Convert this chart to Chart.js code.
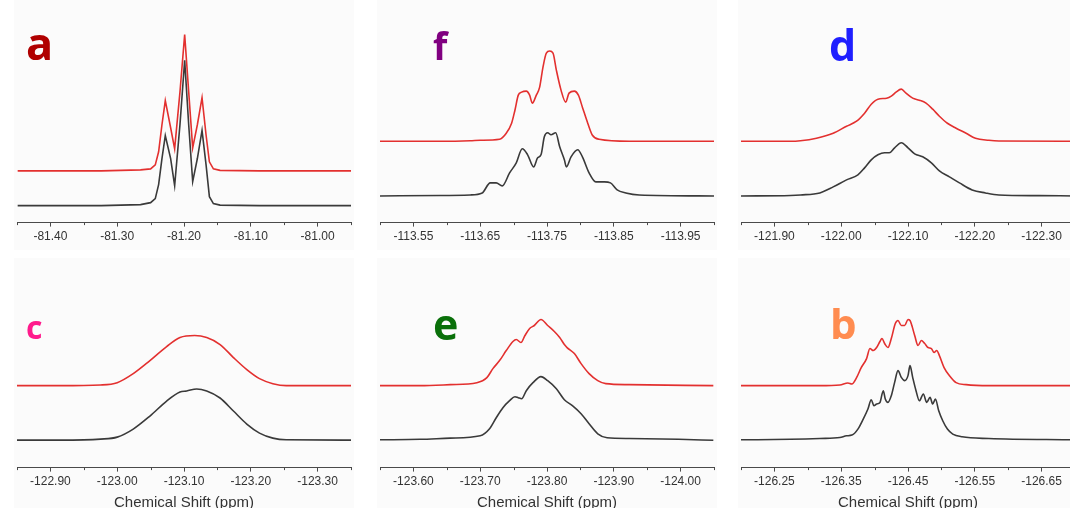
<html>
<head>
<meta charset="utf-8">
<script src="https://cdn.jsdelivr.net/npm/chart.js"></script>
<style>
  body { margin: 0; background: #fff; width: 1070px; height: 508px; overflow: hidden; position: relative; }
  canvas { position: absolute; background: #fbfbfb; }
</style>
</head>
<body>
  <canvas id="pa" width="340" height="250" style="left:14px;top:0px"></canvas>
  <canvas id="pf" width="340" height="250" style="left:377px;top:0px"></canvas>
  <canvas id="pd" width="340" height="250" style="left:738px;top:0px"></canvas>
  <canvas id="pc" width="340" height="254" style="left:14px;top:258px"></canvas>
  <canvas id="pe" width="340" height="254" style="left:377px;top:258px"></canvas>
  <canvas id="pb" width="340" height="254" style="left:738px;top:258px"></canvas>
<script>
// spectra: ppm positions and intensities (a.u., baseline = 0)
const aPpm = [-81.449, -81.324, -81.265, -81.250, -81.243, -81.238, -81.233, -81.228, -81.220, -81.214, -81.206, -81.199, -81.193, -81.187, -81.180, -81.173, -81.167, -81.162, -81.156, -81.146, -81.087, -80.950];
const aBlack = [0, 0, 1, 3, 7, 21, 47, 70, 47, 20, 81, 145, 81, 24, 47, 75, 41, 9, 2, 0.5, 0, 0];
const aRed = [0, 0, 1, 2, 6, 19, 46, 70, 43, 22, 79, 136, 79, 23, 46, 73, 36, 9, 2, 0.5, 0, 0];

const fRedPpm = [-113.500, -113.590, -113.635, -113.650, -113.679, -113.689, -113.697, -113.702, -113.707, -113.712, -113.719, -113.724, -113.728, -113.734, -113.739, -113.744, -113.749, -113.754, -113.759, -113.764, -113.771, -113.778, -113.783, -113.791, -113.797, -113.803, -113.811, -113.818, -113.828, -113.873, -114.000];
const fRed = [0, 0, 0.5, 1, 2, 8, 18, 31, 46, 49, 50, 46, 38, 46, 54, 74, 88, 90, 88, 71, 51, 39, 48, 50, 46, 34, 18, 6, 2, 0, 0];
const fBlackPpm = [-113.500, -113.590, -113.635, -113.653, -113.665, -113.674, -113.683, -113.694, -113.704, -113.713, -113.721, -113.730, -113.736, -113.741, -113.746, -113.751, -113.756, -113.763, -113.769, -113.776, -113.779, -113.786, -113.796, -113.803, -113.813, -113.823, -113.836, -113.845, -113.855, -113.868, -113.888, -114.000];
const fBlack = [0, 0.5, 1, 3, 13, 13, 10, 23, 33, 47, 41, 29, 38, 41, 59, 63, 61, 63, 49, 36, 29, 39, 46, 39, 23, 14, 14, 13, 6, 3, 1, 0];

const dRedPpm = [-121.850, -121.924, -121.939, -121.963, -121.988, -122.008, -122.023, -122.035, -122.045, -122.055, -122.068, -122.075, -122.082, -122.090, -122.097, -122.107, -122.117, -122.127, -122.137, -122.147, -122.159, -122.172, -122.187, -122.201, -122.221, -122.236, -122.350];
const dRed = [0, 0, 0.5, 3, 8, 15, 20, 28, 37, 42, 43, 45, 49, 52, 48, 43, 41, 38, 32, 25, 18, 13, 8, 3, 1, 0.3, 0];
const dBlackPpm = [-121.850, -121.924, -121.939, -121.968, -121.988, -122.008, -122.025, -122.035, -122.045, -122.055, -122.065, -122.072, -122.080, -122.090, -122.100, -122.110, -122.122, -122.135, -122.147, -122.162, -122.177, -122.196, -122.216, -122.236, -122.296, -122.350];
const dBlack = [0, 0.5, 1, 3, 9, 16, 21, 28, 36, 41, 43, 43, 48, 53, 48, 42, 39, 33, 25, 19, 13, 6, 3, 1, 0.3, 0];

const cRedPpm = [-122.850, -122.915, -122.975, -123.000, -123.024, -123.049, -123.074, -123.094, -123.116, -123.134, -123.154, -123.174, -123.194, -123.213, -123.233, -123.253, -123.350];
const cRed = [0, 0, 0.7, 3, 12, 25, 39, 48, 50, 48, 41, 28, 16, 7, 2, 0, 0];
const cBlackPpm = [-122.850, -122.915, -122.975, -123.000, -123.024, -123.049, -123.074, -123.094, -123.104, -123.119, -123.134, -123.154, -123.174, -123.194, -123.213, -123.233, -123.253, -123.350];
const cBlack = [0, 0, 1, 3, 11, 24, 39, 48, 49, 51, 49, 42, 29, 16, 7, 2, 0.3, 0];

const eRedPpm = [-123.549, -123.610, -123.655, -123.695, -123.710, -123.719, -123.729, -123.739, -123.749, -123.754, -123.761, -123.767, -123.774, -123.781, -123.791, -123.801, -123.811, -123.819, -123.826, -123.830, -123.841, -123.851, -123.863, -123.876, -123.888, -123.923, -124.049];
const eRed = [0, 0, 1, 3, 8, 17, 25, 35, 44, 46, 43, 50, 57, 60, 66, 60, 54, 48, 41, 38, 32, 22, 12, 5, 2, 1, 0];
const eBlackPpm = [-123.549, -123.610, -123.655, -123.700, -123.714, -123.724, -123.734, -123.744, -123.752, -123.757, -123.762, -123.769, -123.779, -123.791, -123.801, -123.814, -123.826, -123.838, -123.851, -123.863, -123.876, -123.890, -123.923, -123.997, -124.049];
const eBlack = [0, 0.5, 1.7, 4, 11, 22, 32, 39, 43, 42, 41, 49, 57, 63, 59, 51, 40, 34, 26, 16, 6, 2, 1.3, 0.5, -0.5];

const bRedPpm = [-126.200, -126.274, -126.318, -126.348, -126.360, -126.366, -126.373, -126.380, -126.388, -126.393, -126.398, -126.403, -126.408, -126.411, -126.415, -126.420, -126.425, -126.431, -126.435, -126.440, -126.445, -126.450, -126.453, -126.460, -126.465, -126.470, -126.475, -126.480, -126.485, -126.489, -126.493, -126.497, -126.504, -126.512, -126.522, -126.537, -126.571, -126.700];
const bRed = [0, 0, 0, 0.7, 2.7, 1.7, 8, 18, 27, 37, 35, 38, 44, 47, 42, 38, 47, 62, 65, 60, 60, 66, 65, 50, 40, 45, 42, 38, 37, 33, 35, 30, 18, 10, 3, 1, 0, 0];
const bBlackPpm = [-126.200, -126.274, -126.318, -126.348, -126.358, -126.366, -126.375, -126.383, -126.390, -126.395, -126.399, -126.403, -126.408, -126.413, -126.416, -126.420, -126.425, -126.430, -126.435, -126.440, -126.445, -126.450, -126.453, -126.457, -126.462, -126.467, -126.473, -126.478, -126.483, -126.487, -126.491, -126.496, -126.502, -126.509, -126.517, -126.531, -126.571, -126.700];
const bBlack = [0, 0.5, 1.3, 2.3, 4, 4.7, 10.7, 20.7, 30.7, 40, 34, 35.7, 37.3, 49, 40.7, 37.3, 44, 57.3, 69, 62.3, 59, 64, 74, 62.3, 49, 39, 45.7, 37.3, 42.3, 35.7, 40.7, 29, 19, 10.7, 5.7, 3, 1.3, 0];

const axisColor = '#4a4a4a';
const redLine = '#e3302f';
const blackLine = '#3a3a3a';

Chart.defaults.font.family = '"Liberation Sans", Arial, sans-serif';

function isMajor(v, m0) {
  return Math.abs(Math.round((v - m0) * 100)) % 10 === 0;
}

// short minor ticks + the panel letter
const panelMarks = {
  id: 'panelMarks',
  afterDraw(chart, args, o) {
    const ctx = chart.ctx, sx = chart.scales.x;
    ctx.save();
    ctx.strokeStyle = axisColor;
    ctx.lineWidth = 1;
    sx.ticks.forEach(t => {
      if (isMajor(t.value, o.major0)) return;
      const x = Math.round(sx.getPixelForValue(t.value)) + 0.5;
      ctx.beginPath();
      ctx.moveTo(x, sx.top);
      ctx.lineTo(x, sx.top + 2.5);
      ctx.stroke();
    });
    ctx.fillStyle = o.color;
    ctx.font = 'bold ' + o.size + 'px "Open Sans"';
    ctx.textBaseline = 'alphabetic';
    ctx.fillText(o.letter, o.x, o.y);
    ctx.restore();
  }
};

function makePanel(id, p) {
  const trace = (xs, ys, off, color) => ({
    data: xs.map((x, i) => ({ x: x, y: ys[i] + off })),
    borderColor: color,
    borderWidth: 1.6,
    pointRadius: 0,
    tension: p.sharp ? 0 : 0.4,
    cubicInterpolationMode: p.sharp ? 'default' : 'monotone'
  });
  return new Chart(document.getElementById(id), {
    type: 'line',
    data: {
      datasets: [
        trace(p.blackPpm, p.black, p.blackOff, blackLine),
        trace(p.redPpm, p.red, p.redOff, redLine)
      ]
    },
    plugins: [panelMarks],
    options: {
      responsive: false,
      animation: false,
      events: [],
      layout: { padding: { left: 2, right: 2, top: 0, bottom: p.title ? 0 : 3 } },
      plugins: {
        legend: { display: false },
        tooltip: { enabled: false },
        panelMarks: { major0: p.major0, letter: p.letter, color: p.color, size: p.size, x: p.lx, y: p.ly }
      },
      scales: {
        x: {
          type: 'linear',
          min: p.min,
          max: p.max,
          reverse: p.reverse,
          border: { color: axisColor, width: 1 },
          grid: {
            drawOnChartArea: false,
            tickLength: 4,
            tickColor: c => isMajor(c.tick.value, p.major0) ? axisColor : 'rgba(0,0,0,0)'
          },
          ticks: {
            stepSize: 0.05,
            autoSkip: false,
            maxRotation: 0,
            minRotation: 0,
            padding: 3,
            color: '#333',
            font: { size: 12 },
            callback: v => isMajor(v, p.major0) ? v.toFixed(2) : ''
          },
          title: {
            display: !!p.title,
            text: 'Chemical Shift (ppm)',
            color: '#333',
            font: { size: 15 },
            padding: { top: 2, bottom: 0 }
          }
        },
        y: { display: false, min: 0, max: p.yMax }
      }
    }
  });
}

makePanel('pa', { redPpm: aPpm, red: aRed, blackPpm: aPpm, black: aBlack, min: -81.45, max: -80.95, reverse: false,
  major0: -81.40, blackOff: 16.9, redOff: 51.6, yMax: 222, sharp: true,
  letter: 'a', color: '#b00000', size: 45, lx: 12, ly: 60 });
makePanel('pf', { redPpm: fRedPpm, red: fRed, blackPpm: fBlackPpm, black: fBlack, min: -114.00, max: -113.50, reverse: true,
  major0: -113.55, blackOff: 26.6, redOff: 81.1, yMax: 222,
  letter: 'f', color: '#800080', size: 37, lx: 56, ly: 60 });
makePanel('pd', { redPpm: dRedPpm, red: dRed, blackPpm: dBlackPpm, black: dBlack, min: -122.35, max: -121.85, reverse: true,
  major0: -121.90, blackOff: 26.6, redOff: 81.1, yMax: 222,
  letter: 'd', color: '#1f1fff', size: 43, lx: 91, ly: 61 });
makePanel('pc', { redPpm: cRedPpm, red: cRed, blackPpm: cBlackPpm, black: cBlack, min: -123.35, max: -122.85, reverse: true,
  major0: -122.90, blackOff: 27.4, redOff: 81.7, yMax: 209, title: true,
  letter: 'c', color: '#ff1a8c', size: 32, lx: 12, ly: 81 });
makePanel('pe', { redPpm: eRedPpm, red: eRed, blackPpm: eBlackPpm, black: eBlack, min: -124.05, max: -123.55, reverse: true,
  major0: -123.60, blackOff: 27.7, redOff: 81.7, yMax: 209, title: true,
  letter: 'e', color: '#0a700a', size: 43, lx: 56, ly: 82 });
makePanel('pb', { redPpm: bRedPpm, red: bRed, blackPpm: bBlackPpm, black: bBlack, min: -126.70, max: -126.20, reverse: true,
  major0: -126.25, blackOff: 27.7, redOff: 81.7, yMax: 209, title: true,
  letter: 'b', color: '#ff8c50', size: 42, lx: 92, ly: 81 });
</script>
</body>
</html>
